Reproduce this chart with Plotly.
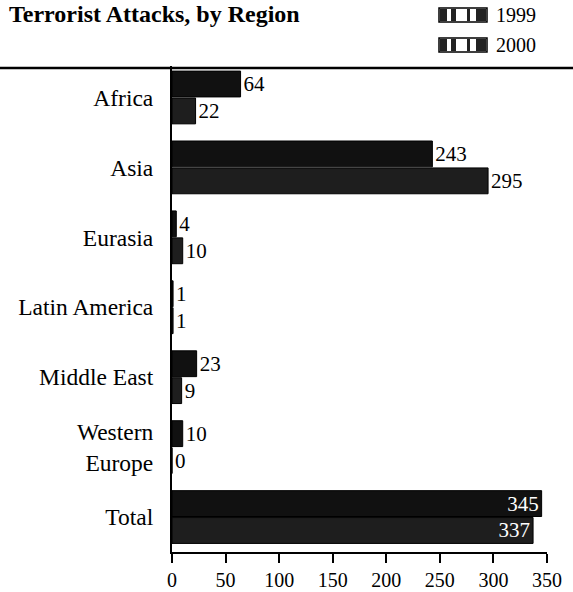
import plotly.graph_objects as go

regions = ["Africa", "Asia", "Eurasia", "Latin America", "Middle East", "Western<br>Europe", "Total"]
attacks_1999 = [64, 243, 4, 1, 23, 10, 345]
attacks_2000 = [22, 295, 10, 1, 9, 0, 337]
x_ticks = [0, 50, 100, 150, 200, 250, 300, 350]
series_names = ["1999", "2000"]

W, H = 573, 592
L, R, T, B = 172, 26, 66, 40
PW, PH = W - L - R, H - T - B
SERIF = "Liberation Serif"


def px(x):
    return (x - L) / PW


def py(y):
    return (H - B - y) / PH


def positions(vals):
    return ["inside" if r == "Total" else "outside" for r in regions]


fig = go.Figure()
colors = ["#111111", "#1e1e1e"]
for name, vals, col in zip(series_names, [attacks_1999, attacks_2000], colors):
    fig.add_trace(go.Bar(
        y=regions, x=vals, orientation="h", name=name,
        marker=dict(color=col, line=dict(color="#000000", width=1)),
        text=[str(v) for v in vals],
        textposition=positions(vals),
        insidetextanchor="end",
        insidetextfont=dict(family=SERIF, size=21, color="white"),
        outsidetextfont=dict(family=SERIF, size=21, color="black"),
        constraintext="none",
        cliponaxis=False,
        showlegend=False,
    ))

fig.update_layout(
    width=W, height=H,
    margin=dict(l=L, r=R, t=T, b=B, autoexpand=False),
    paper_bgcolor="white", plot_bgcolor="white",
    barmode="group", bargap=0.23, bargroupgap=0.04,
    font=dict(family=SERIF, size=18, color="black"),
)
fig.update_xaxes(
    range=[0, 350], tickvals=x_ticks, ticktext=[str(t) for t in x_ticks],
    showgrid=False, zeroline=False, showline=True, linecolor="black", linewidth=2,
    ticks="outside", ticklen=9, tickwidth=1.5, tickcolor="black",
    tickfont=dict(family=SERIF, size=20), automargin=False,
)
fig.update_yaxes(
    range=[6.5, -0.45], showgrid=False, zeroline=False,
    showline=True, linecolor="black", linewidth=2,
    ticks="", ticklabelstandoff=12, automargin=False,
    tickfont=dict(family=SERIF, size=23.5),
)

# top rule
fig.add_shape(type="line", xref="paper", yref="paper",
              x0=px(0), x1=px(W), y0=py(68), y1=py(68),
              line=dict(color="black", width=2.5))

# title
fig.add_annotation(text="<b>Terrorist Attacks, by Region</b>", xref="paper", yref="paper",
                   x=px(7), y=py(14), xanchor="left", yanchor="middle", showarrow=False,
                   font=dict(family=SERIF, size=24, color="black"))

# legend (manual)
for i, name in enumerate(series_names):
    yc = 15 + 30 * i
    fig.add_shape(type="rect", xref="paper", yref="paper",
                  x0=px(439), x1=px(487), y0=py(yc - 7), y1=py(yc + 7),
                  line=dict(color="black", width=1.5), fillcolor="white")
    for a, b in [(440, 447), (451, 456), (467, 470), (476, 486)]:
        fig.add_shape(type="rect", xref="paper", yref="paper",
                      x0=px(a), x1=px(b), y0=py(yc - 6), y1=py(yc + 6),
                      line=dict(width=0), fillcolor="#222222")
    fig.add_annotation(text=name, xref="paper", yref="paper",
                       x=px(494), y=py(yc), xanchor="left", yanchor="middle", showarrow=False,
                       font=dict(family=SERIF, size=20, color="black"))

fig.write_html("out.html", config={"displayModeBar": False},
               post_script="document.body.style.margin='0';")
